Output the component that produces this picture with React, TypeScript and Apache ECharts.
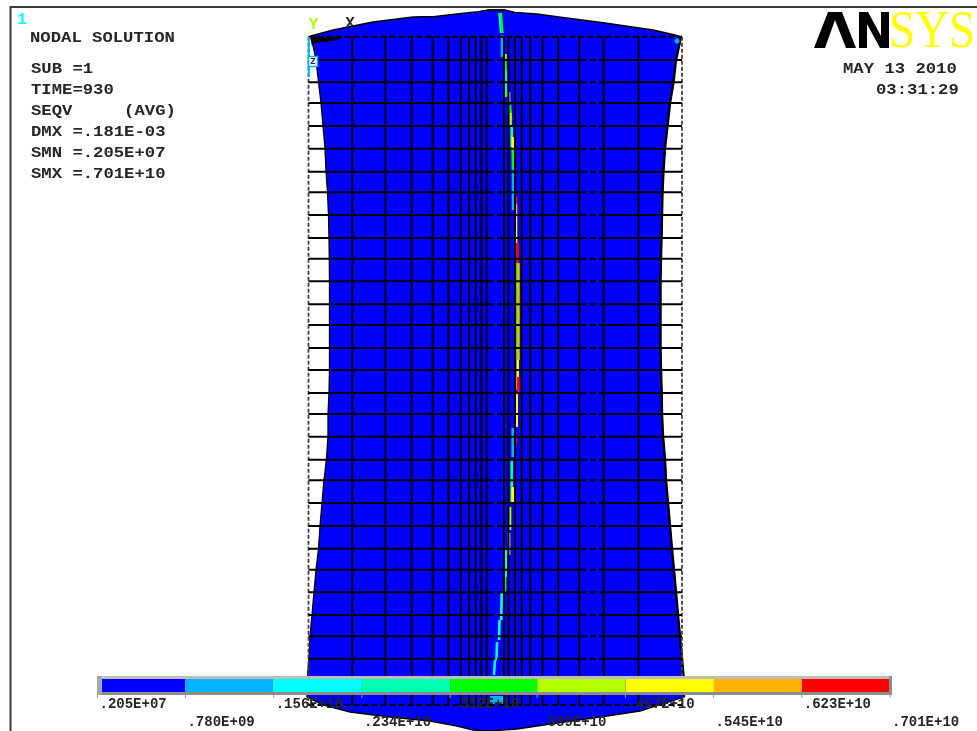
import React, { useEffect, useRef } from "react";
import * as echarts from "echarts";

// Model outline of the deformed plate
const topEdgeX = [311, 333, 373, 413, 435, 457, 478, 488, 505, 515, 537, 557, 605, 653, 675, 681];
const topEdgeY = [36, 30, 22, 17, 16.5, 14, 11.7, 10, 10, 12.3, 14, 16.7, 23, 30, 35, 37];
const rightEdgeY = [60, 82, 103, 126, 148, 171, 192, 215, 238, 258, 281, 304, 325, 348, 370, 393, 414, 436, 459, 480, 503, 526, 549, 570, 592, 615, 636, 658, 676, 697];
const rightEdgeX = [676, 673.5, 670, 667.5, 665, 663.5, 662.5, 662, 661.5, 661, 660.5, 660.5, 660.5, 660.5, 661, 661.7, 662, 663, 665, 666, 668, 670, 672, 674, 676, 678, 680, 682, 683.5, 684];
const bottomEdgeX = [640, 607, 557, 517, 490, 473, 457, 430, 390, 350, 323];
const bottomEdgeY = [711, 716, 723, 729, 731, 730, 726, 721, 717, 712, 705];
const leftEdgeY = [697, 676, 658, 636, 615, 592, 570, 549, 526, 503, 480, 459, 436, 414, 393, 370, 348, 325, 304, 281, 258, 238, 215, 192, 171, 148, 126, 103, 82, 60];
const leftEdgeX = [307, 307.5, 309, 310, 312, 314, 316, 318.5, 320, 322, 324, 326.5, 328, 328, 329, 329.5, 329.5, 329.5, 329.5, 329.5, 329.3, 329, 328.5, 327.5, 326, 325, 323, 321, 318.5, 316];

// Undeformed mesh
const meshX = [352.3, 385.3, 411.7, 432.7, 448.5, 460.7, 469.2, 475.8, 481.5, 486.7, 504, 508.5, 515, 521.7, 530.3, 542.5, 558.3, 579.3, 603.7, 638.5];
const meshY = [60, 82.3, 103, 126, 148.7, 171.7, 192.3, 215, 238, 258.7, 281.3, 304.3, 325, 348, 370, 393, 414, 436.7, 459.7, 480.3, 503, 526, 548.7, 569.7, 592.3, 615, 636.3, 658.7, 681];
const meshLeft = 308.5;
const meshRight = 682;
const meshTop = 36.7;
const meshBottom = 705;
const solidSpans = [[308.5, 488], [503, 581], [601, 682]];
const dashedSpans = [[488, 503], [581, 601]];

// Stress streak along the crack: x1, y1, x2, y2, contour band
const streaks = [
  [499.6, 13, 501.2, 33, 2], [500.8, 13, 502.4, 33, 4], [502, 35, 502, 57, 1],
  [505.5, 54, 505.5, 60, 5], [505.5, 60, 505.5, 70, 4], [506, 70, 506, 97, 3],
  [509, 92, 509, 103, 6], [510, 105, 511, 120, 4], [510.5, 113, 510.5, 127, 5],
  [511.7, 127, 511.7, 147, 3], [512.7, 137, 512.7, 150, 6], [512.7, 150, 513, 170, 4],
  [513, 173, 513, 210, 1], [516, 197, 516, 204, 8], [516, 204, 516, 217, 7],
  [516, 217, 516, 243, 6], [517.5, 243, 517.5, 263, 8], [515.8, 263, 515.8, 360, 5],
  [517, 263, 517, 360, 4], [518.4, 263, 518.4, 360, 7], [517.7, 360, 517.7, 390, 6],
  [518.4, 377, 518.4, 392, 8], [516.7, 393, 516.7, 427, 6], [516, 438, 516, 443, 8],
  [512.7, 428, 512.7, 457, 1], [511.7, 460, 511.7, 503, 3], [512.7, 487, 512.7, 503, 6],
  [510, 507, 510, 530, 5], [509, 533, 509, 555, 6], [505.7, 550, 505.7, 577, 3],
  [505, 577, 505, 592, 4], [501.7, 592, 501.2, 620, 2], [499.5, 620, 499, 640, 2],
  [497, 642, 496.5, 660, 2], [495, 660, 494, 675, 2],
];

// Contour legend
const contourColors = ["#0000FF", "#00B2FF", "#00FFFF", "#00FFB2", "#00FF00", "#B2FF00", "#FFFF00", "#FFB200", "#FF0000"];
const legendLevels = [0.00205e9, 0.78e9, 1.56e9, 2.34e9, 3.12e9, 3.89e9, 4.67e9, 5.45e9, 6.23e9, 7.01e9];
const legendLabels = [".205E+07", ".780E+09", ".156E+10", ".234E+10", ".312E+10", ".389E+10", ".467E+10", ".545E+10", ".623E+10", ".701E+10"];

// Annotation texts
const plotTitle = "NODAL SOLUTION";
const infoLines = ["SUB =1", "TIME=930", "SEQV     (AVG)", "DMX =.181E-03", "SMN =.205E+07", "SMX =.701E+10"];
const dateLines = ["MAY 13 2010", "03:31:29"];

const MONO = '"Liberation Mono", monospace';
const INK = "#262626";

function monoText(text: string, x: number, y: number, align = "left") {
  return {
    type: "text",
    x,
    y,
    scaleX: 1.15,
    z: 20,
    style: {
      text,
      x: 0,
      y: 0,
      fill: INK,
      font: `bold 15px ${MONO}`,
      align,
      verticalAlign: "middle",
    },
  };
}

function buildOption() {
  const bodyPoints: number[][] = [
    ...topEdgeX.map((x, i) => [x, topEdgeY[i]]),
    ...rightEdgeX.map((x, i) => [x, rightEdgeY[i]]),
    ...bottomEdgeX.map((x, i) => [x, bottomEdgeY[i]]),
    ...leftEdgeX.map((x, i) => [x, leftEdgeY[i]]),
  ];
  const rightOutline = [[681, 37], ...rightEdgeX.map((x, i) => [x, rightEdgeY[i]])];

  const solidSegments: number[][] = [];
  meshY.forEach((y) => solidSpans.forEach(([a, b]) => solidSegments.push([a, y, b, y])));
  meshX.forEach((x) => solidSegments.push([x, meshTop, x, meshBottom]));
  const dashedSegments: number[][] = [];
  meshY.forEach((y) => dashedSpans.forEach(([a, b]) => dashedSegments.push([a, y, b, y])));
  dashedSegments.push([meshLeft, meshTop, meshRight, meshTop]);
  dashedSegments.push([meshLeft, meshBottom, meshRight, meshBottom]);
  const sideSegments = [
    [meshLeft, meshTop, meshLeft, meshBottom],
    [meshRight, meshTop, meshRight, meshBottom],
  ];

  const lineRenderer = (style: any) => (_: any, api: any) => {
    const p = api.coord([api.value(0), api.value(1)]);
    const q = api.coord([api.value(2), api.value(3)]);
    return { type: "line", shape: { x1: p[0], y1: p[1], x2: q[0], y2: q[1] }, style };
  };

  return {
    animation: false,
    backgroundColor: "#ffffff",
    grid: [
      { left: 0, top: 0, width: 977, height: 731, show: false },
      { left: 97.5, top: 676, width: 792.5, height: 19, show: false },
    ],
    xAxis: [
      { type: "value", gridIndex: 0, min: 0, max: 977, show: false },
      { type: "value", gridIndex: 1, min: legendLevels[0], max: legendLevels[9], show: false },
    ],
    yAxis: [
      { type: "value", gridIndex: 0, min: 0, max: 731, inverse: true, show: false },
      { type: "value", gridIndex: 1, min: 0, max: 1, show: false },
    ],
    series: [
      {
        type: "custom",
        name: "body",
        z: 2,
        data: [0],
        renderItem: (_: any, api: any) => ({
          type: "polygon",
          shape: { points: bodyPoints.map((p) => api.coord(p)) },
          style: { fill: "#0000FF", stroke: "#000000", lineWidth: 1.3 },
        }),
      },
      {
        type: "custom",
        name: "right outline",
        z: 3,
        data: [0],
        renderItem: (_: any, api: any) => ({
          type: "polyline",
          shape: { points: rightOutline.map((p) => api.coord(p)) },
          style: { fill: "none", stroke: "#000000", lineWidth: 2.4 },
        }),
      },
      {
        type: "custom",
        name: "mesh side",
        z: 3,
        data: sideSegments,
        renderItem: lineRenderer({ stroke: "#444444", lineWidth: 1.8, lineDash: [4, 2] }),
      },
      {
        type: "custom",
        name: "streaks",
        z: 3,
        data: streaks,
        renderItem: (_: any, api: any) => {
          const p = api.coord([api.value(0), api.value(1)]);
          const q = api.coord([api.value(2), api.value(3)]);
          return {
            type: "line",
            shape: { x1: p[0], y1: p[1], x2: q[0], y2: q[1] },
            style: { stroke: contourColors[api.value(4)], lineWidth: 2.6 },
          };
        },
      },
      {
        type: "custom",
        name: "mesh",
        z: 4,
        data: solidSegments,
        renderItem: lineRenderer({ stroke: "#000000", lineWidth: 2 }),
      },
      {
        type: "custom",
        name: "mesh dashed",
        z: 4,
        data: dashedSegments,
        renderItem: lineRenderer({ stroke: "#000000", lineWidth: 2, lineDash: [6, 3] }),
      },
      {
        type: "custom",
        name: "legend bands",
        xAxisIndex: 1,
        yAxisIndex: 1,
        z: 6,
        data: contourColors.map((_, i) => i),
        renderItem: (params: any, api: any) => {
          const i = api.value(0);
          const a = api.coord([legendLevels[i], 0])[0];
          const b = api.coord([legendLevels[i + 1], 0])[0];
          const cs = params.coordSys;
          return {
            type: "rect",
            shape: { x: a, y: cs.y, width: b - a, height: cs.height },
            style: { fill: contourColors[i] },
          };
        },
      },
      {
        type: "custom",
        name: "legend ticks and labels",
        xAxisIndex: 1,
        yAxisIndex: 1,
        z: 8,
        data: legendLevels.map((level, i) => [level, i]),
        renderItem: (params: any, api: any) => {
          const x = api.coord([api.value(0), 0])[0];
          const i = api.value(1);
          const cs = params.coordSys;
          const bottom = cs.y + cs.height;
          return {
            type: "group",
            children: [
              {
                type: "rect",
                shape: { x: x - 0.5, y: bottom, width: 1, height: 3 },
                style: { fill: "#9a9a9a" },
              },
              {
                type: "text",
                style: {
                  text: legendLabels[i],
                  x: x + 2,
                  y: bottom + (i % 2 === 0 ? 9 : 27),
                  fill: INK,
                  font: `bold 14px ${MONO}`,
                  align: "left",
                  verticalAlign: "middle",
                },
              },
            ],
          };
        },
      },
    ],
    graphic: [
      // page frame
      { type: "rect", z: 1, shape: { x: 10, y: 6, width: 967, height: 2 }, style: { fill: "#3a3a3a" } },
      { type: "rect", z: 1, shape: { x: 9.5, y: 6, width: 2, height: 725 }, style: { fill: "#3a3a3a" } },
      // legend frame
      { type: "rect", z: 7, shape: { x: 97, y: 676, width: 795, height: 3 }, style: { fill: "#bdbdbd" } },
      { type: "rect", z: 7, shape: { x: 97, y: 692, width: 795, height: 3 }, style: { fill: "#8c8c8c" } },
      { type: "rect", z: 7, shape: { x: 97, y: 676, width: 5, height: 19 }, style: { fill: "#a8a8a8" } },
      { type: "rect", z: 7, shape: { x: 889, y: 676, width: 3, height: 19 }, style: { fill: "#8c8c8c" } },
      // triad accents
      { type: "polygon", z: 5, shape: { points: [[310, 37], [342, 37], [338, 40], [316, 43], [312, 46]] }, style: { fill: "#000000" } },
      { type: "rect", z: 5, shape: { x: 307.8, y: 37, width: 2, height: 40 }, style: { fill: "#00B2FF" } },
      { type: "rect", z: 5, shape: { x: 308.5, y: 56.5, width: 9, height: 10 }, style: { fill: "#ffffff", stroke: "#00B2FF", lineWidth: 1.5 } },
      { type: "circle", z: 5, shape: { cx: 677, cy: 41, r: 2.6 }, style: { fill: "#00B2FF" } },
      { type: "rect", z: 5, shape: { x: 488, y: 9, width: 17, height: 2.2 }, style: { fill: "#111111" } },
      { type: "rect", z: 5, shape: { x: 490, y: 696, width: 13, height: 8 }, style: { fill: "#00B2FF" } },
      { type: "text", z: 20, style: { text: "Z", x: 313, y: 62, fill: INK, font: `bold 9px ${MONO}`, align: "center", verticalAlign: "middle" } },
      { type: "text", z: 20, style: { text: "Y", x: 313.5, y: 25, fill: "#B2FF00", font: `bold 16px ${MONO}`, align: "center", verticalAlign: "middle" } },
      { type: "text", z: 20, style: { text: "X", x: 350, y: 24, fill: INK, font: `bold 16px ${MONO}`, align: "center", verticalAlign: "middle" } },
      { type: "text", z: 20, style: { text: "1", x: 22, y: 20, fill: "#00FFFF", font: `bold 16px ${MONO}`, align: "center", verticalAlign: "middle" } },
      // texts
      monoText(plotTitle, 30, 38.5),
      ...infoLines.map((t, i) => monoText(t, 31, 69.5 + 21 * i)),
      monoText(dateLines[0], 843, 69.5),
      monoText(dateLines[1], 876, 90.5),
      // logo
      { type: "polygon", z: 20, shape: { points: [[814, 48], [828, 12], [842, 12], [856, 48], [846, 48], [835, 20], [825, 48]] }, style: { fill: "#000000" } },
      { type: "polygon", z: 20, shape: { points: [[859, 48], [859, 12], [868, 12], [881, 36], [881, 12], [889, 12], [889, 48], [880, 48], [867, 24], [867, 48]] }, style: { fill: "#000000" } },
      {
        type: "text",
        z: 20,
        x: 889,
        y: 30,
        scaleX: 1,
        scaleY: 1.12,
        style: { text: "SYS", x: 0, y: 0, fill: "#FFFF00", font: '47px "Liberation Serif", serif', align: "left", verticalAlign: "middle" },
      },
    ],
  };
}

export default function App() {
  const ref = useRef<HTMLDivElement>(null);
  useEffect(() => {
    document.body.style.margin = "0";
    document.body.style.overflow = "hidden";
    const chart = echarts.init(ref.current!, undefined, { renderer: "svg" });
    chart.setOption(buildOption() as any);
    return () => chart.dispose();
  }, []);
  return <div ref={ref} style={{ position: "absolute", left: 0, top: 0, width: 977, height: 731, filter: "blur(0.35px)" }} />;
}
